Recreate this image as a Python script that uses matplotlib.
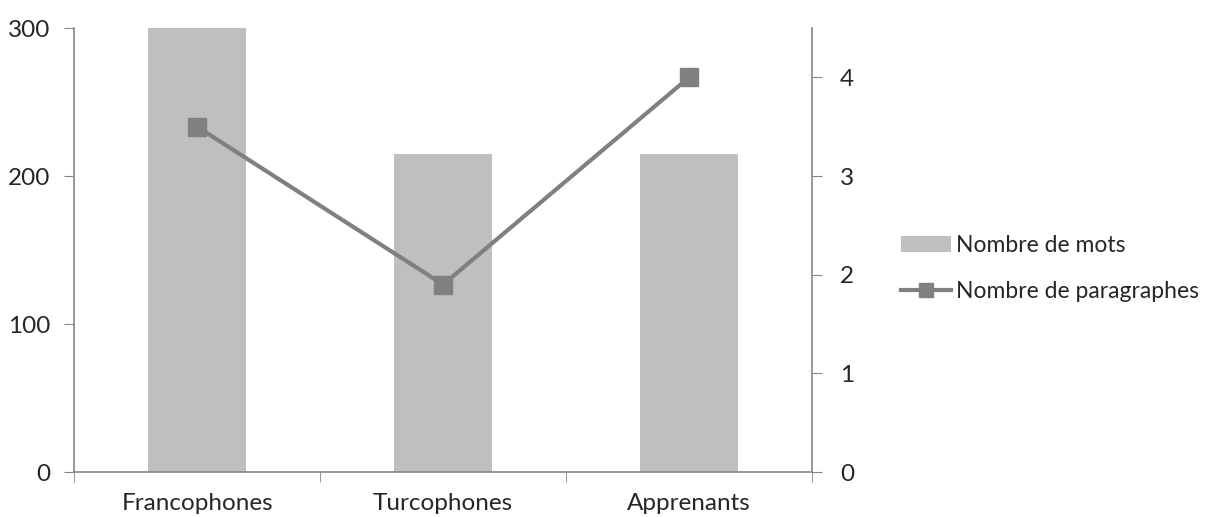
import matplotlib.pyplot as plt
import numpy as np
from matplotlib.patches import Patch
from matplotlib.lines import Line2D

plt.rcParams['font.family'] = ['Lato', 'DejaVu Sans']

categories = ["Francophones", "Turcophones", "Apprenants"]
nb_mots = [300, 215, 215]
nb_paragraphes = [3.5, 1.9, 4.0]

BAR_COLOR = "#BFBFBF"
LINE_COLOR = "#808080"
AXIS_COLOR = "#868686"
TEXT_COLOR = "#262626"
FS = 17.5

fig = plt.figure(figsize=(12.24, 5.17), dpi=100)
ax = fig.add_axes([0.0605, 0.087, 0.603, 0.8588])
x = np.arange(len(categories))

ax.bar(x, nb_mots, width=0.4, color=BAR_COLOR, zorder=1)
ax.set_xlim(-0.5, 2.5)
ax.set_ylim(0, 300)
ax.set_yticks([0, 100, 200, 300])
ax.set_xticks(x)
ax.set_xticklabels(categories)
ax.set_xticks([-0.5, 0.5, 1.5, 2.5], minor=True)
ax.tick_params(axis="x", which="major", length=0, pad=15, labelsize=FS, colors=TEXT_COLOR)
ax.tick_params(axis="x", which="minor", length=7, color=AXIS_COLOR, direction="out")
ax.tick_params(axis="y", length=7, color=AXIS_COLOR, labelsize=FS, labelcolor=TEXT_COLOR, pad=10)
for s in ["top", "right"]:
    ax.spines[s].set_visible(False)
for s in ["left", "bottom"]:
    ax.spines[s].set_color(AXIS_COLOR)
    ax.spines[s].set_linewidth(1.2)

ax2 = ax.twinx()
ax2.plot(x, nb_paragraphes, color=LINE_COLOR, linewidth=3, marker="s",
         markersize=13, markerfacecolor=LINE_COLOR, markeredgecolor=LINE_COLOR, zorder=3)
ax2.set_ylim(0, 4.5)
ax2.set_yticks([0, 1, 2, 3, 4])
ax2.tick_params(axis="y", length=7, color=AXIS_COLOR, labelsize=FS, labelcolor=TEXT_COLOR, pad=13)
for s in ["top", "left", "bottom"]:
    ax2.spines[s].set_visible(False)
ax2.spines["right"].set_color(AXIS_COLOR)
ax2.spines["right"].set_linewidth(1.2)

handles = [
    Patch(facecolor=BAR_COLOR, edgecolor="none"),
    Line2D([0], [0], color=LINE_COLOR, linewidth=3, marker="s", markersize=10),
]
fig.legend(handles, ["Nombre de mots", "Nombre de paragraphes"],
           loc="center left", bbox_to_anchor=(0.719, 0.48), frameon=False,
           fontsize=16.5, handlelength=2.2, handletextpad=0.2, labelspacing=1.1,
           labelcolor=TEXT_COLOR)

fig.savefig("out.png", dpi=100)
